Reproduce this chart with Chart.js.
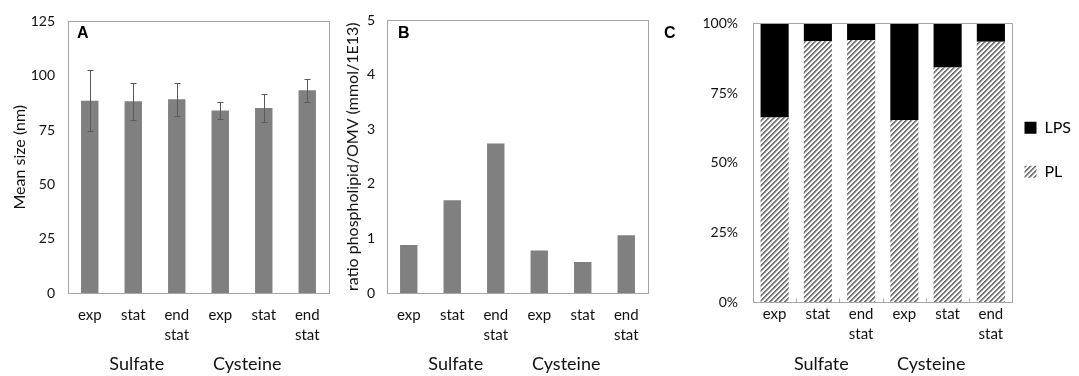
<!DOCTYPE html>
<html>
<head>
<meta charset="utf-8">
<script src="https://cdn.jsdelivr.net/npm/chart.js@4"></script>
<style>
    html, body { margin: 0; padding: 0; background: #fff; }
    #wrap { position: relative; width: 1079px; height: 376px; }
    canvas { position: absolute; top: 0; }
</style>
</head>
<body>
<div id="wrap">
    <canvas id="chartA" width="340" height="376" style="left:0"></canvas>
    <canvas id="chartB" width="320" height="376" style="left:340px"></canvas>
    <canvas id="chartC" width="419" height="376" style="left:660px"></canvas>
</div>
<script>
//
// Data
//

const categories = [["exp"], ["stat"], ["end", "stat"], ["exp"], ["stat"], ["end", "stat"]];
const groups = ["Sulfate", "Cysteine"];

// A: mean OMV size (nm) with error bars
const meanSize = [88.5, 88.3, 89.2, 84.0, 85.2, 93.3];
const meanSizeErr = [14.0, 8.5, 7.6, 3.9, 6.5, 5.3];

// B: ratio phospholipid / OMV
const ratioPL = [0.88, 1.70, 2.74, 0.78, 0.57, 1.06];

// C: composition (%)
const plShare = [66.2, 93.6, 94.0, 65.3, 84.2, 93.4];
const lpsShare = [33.8, 6.4, 6.0, 34.7, 15.8, 6.6];

Chart.defaults.font.family = "Lato";
Chart.defaults.color = "#111";

const BAR_GREY = "#808080";
const FRAME_GREY = "#a6a6a6";

//
// Plugins
//

const frame = {
    id: "frame",

    afterDatasetsDraw(chart, args, opts) {
        const { ctx, chartArea: { left, top, right, bottom }, scales: { x } } = chart;

        ctx.save();
        ctx.strokeStyle = FRAME_GREY;
        ctx.lineWidth = 1;

        const l = Math.round(left) + 0.5;
        const t = Math.round(top) + 0.5;
        const r = Math.round(right) + 0.5;
        const b = Math.round(bottom) + 0.5;
        ctx.strokeRect(l, t, r - l, b - t);

        // small inward ticks between categories
        if (opts.innerTicks) {
            ctx.beginPath();
            for (let i = 0; i < chart.data.labels.length - 1; i++) {
                const px = Math.round(x.getPixelForValue(i + 0.5)) + 0.5;
                ctx.moveTo(px, b);
                ctx.lineTo(px, b - 4);
            }
            ctx.stroke();
        }

        // panel letter
        if (opts.letter) {
            ctx.fillStyle = "#000";
            ctx.font = "bold 16px 'Liberation Sans', Arial, sans-serif";
            ctx.textAlign = "left";
            ctx.textBaseline = "alphabetic";
            ctx.fillText(opts.letter.text, opts.letter.x, opts.letter.y);
        }

        ctx.restore();
    }
};

const errorBars = {
    id: "errorBars",

    afterDatasetsDraw(chart, args, opts) {
        if (!opts.errors) return;

        const { ctx, scales: { y } } = chart;
        const meta = chart.getDatasetMeta(0);
        const values = chart.data.datasets[0].data;

        ctx.save();
        ctx.strokeStyle = "#5a5a5a";
        ctx.lineWidth = 1;
        ctx.beginPath();

        meta.data.forEach((bar, i) => {
            const hi = Math.round(y.getPixelForValue(values[i] + opts.errors[i])) + 0.5;
            const lo = Math.round(y.getPixelForValue(values[i] - opts.errors[i])) + 0.5;
            const xc = Math.round(bar.x) + 0.5;

            ctx.moveTo(xc, hi);
            ctx.lineTo(xc, lo);
            ctx.moveTo(xc - 3, hi);
            ctx.lineTo(xc + 3, hi);
            ctx.moveTo(xc - 3, lo);
            ctx.lineTo(xc + 3, lo);
        });

        ctx.stroke();
        ctx.restore();
    }
};

const groupLabels = {
    id: "groupLabels",

    afterDraw(chart, args, opts) {
        if (!opts.labels) return;

        const { ctx, scales: { x } } = chart;

        ctx.save();
        ctx.fillStyle = "#111";
        ctx.font = "18px Lato";
        ctx.textAlign = "center";
        ctx.textBaseline = "alphabetic";

        opts.labels.forEach((label, i) => {
            ctx.fillText(label, x.getPixelForValue(opts.at[i]), opts.y);
        });

        ctx.restore();
    }
};

// nudge the legend next to the plot box
const legendPlacer = {
    id: "legendPlacer",

    afterLayout(chart, args, opts) {
        const lg = chart.legend;
        if (!lg || !opts.gap) return;

        const dx = chart.chartArea.right + opts.gap - (lg.left + lg.options.labels.padding);
        lg.left += dx;
        lg.right += dx;
        lg.top += opts.dy;
        lg.bottom += opts.dy;
    }
};

//
// Shared axis builders
//

function xAxis(height, padding) {
    return {
        grid: { display: false, drawTicks: false },
        border: { display: false },
        ticks: {
            padding,
            color: "#111",
            autoSkip: false,
            maxRotation: 0,
            minRotation: 0,
            font: { size: 15, lineHeight: 1.35 }
        },
        afterFit: scale => { scale.height = height; }
    };
}

function yAxis(width, max, step, title, titlePad, padding, suffix) {
    return {
        min: 0,
        max,
        grid: { display: false, drawTicks: false },
        border: { display: false },
        ticks: {
            stepSize: step,
            padding,
            color: "#111",
            font: { size: 14 },
            callback: value => value + (suffix || "")
        },
        title: {
            display: !!title,
            text: title,
            color: "#111",
            font: { size: 16 },
            padding: { top: titlePad, bottom: 0 }
        },
        afterFit: scale => { scale.width = width; }
    };
}

const groupOpts = { labels: groups, at: [1.08, 3.62], y: 370 };

//
// A: Mean size
//

new Chart(document.getElementById("chartA"), {
    type: "bar",
    data: {
        labels: categories,
        datasets: [{
            data: meanSize,
            backgroundColor: BAR_GREY,
            borderWidth: 0,
            barPercentage: 0.4,
            categoryPercentage: 1
        }]
    },
    options: {
        responsive: false,
        animation: false,
        layout: { padding: { top: 15, right: 11, left: 0, bottom: 0 } },
        scales: {
            x: xAxis(83, 12),
            y: yAxis(68, 125, 25, "Mean size (nm)", 10, 13)
        },
        plugins: {
            legend: { display: false },
            tooltip: { enabled: false },
            errorBars: { errors: meanSizeErr },
            frame: { letter: { text: "A", x: 77, y: 38 } },
            groupLabels: groupOpts
        }
    },
    plugins: [frame, errorBars, groupLabels]
});

//
// B: Phospholipid ratio
//

new Chart(document.getElementById("chartB"), {
    type: "bar",
    data: {
        labels: categories,
        datasets: [{
            data: ratioPL,
            backgroundColor: BAR_GREY,
            borderWidth: 0,
            barPercentage: 0.4,
            categoryPercentage: 1
        }]
    },
    options: {
        responsive: false,
        animation: false,
        layout: { padding: { top: 17, right: 12, left: 0, bottom: 0 } },
        scales: {
            x: xAxis(83, 12),
            y: yAxis(47, 5, 1, "ratio phospholipid/OMV (mmol/1E13)", 3, 12)
        },
        plugins: {
            legend: { display: false },
            tooltip: { enabled: false },
            frame: { letter: { text: "B", x: 58, y: 38 } },
            groupLabels: groupOpts
        }
    },
    plugins: [frame, groupLabels]
});

//
// C: Composition
//

function makeHatch(canvas) {
    const n = 5;
    const tile = document.createElement("canvas");
    tile.width = n;
    tile.height = n;
    const g = tile.getContext("2d");
    g.fillStyle = "#fff";
    g.fillRect(0, 0, n, n);
    for (let yy = 0; yy < n; yy++) {
        for (let xx = 0; xx < n; xx++) {
            const k = (xx + yy) % n;
            if (k === 0 || k === 1) { g.fillStyle = "#787878"; g.fillRect(xx, yy, 1, 1); }
            if (k === 2) { g.fillStyle = "#c4c4c4"; g.fillRect(xx, yy, 1, 1); }
        }
    }
    return canvas.getContext("2d").createPattern(tile, "repeat");
}

const canvasC = document.getElementById("chartC");
const hatch = makeHatch(canvasC);

new Chart(canvasC, {
    type: "bar",
    data: {
        labels: categories,
        datasets: [
            {
                label: "PL",
                data: plShare,
                backgroundColor: hatch,
                borderWidth: 0,
                barPercentage: 0.65,
                categoryPercentage: 1
            },
            {
                label: "LPS",
                data: lpsShare,
                backgroundColor: "#000",
                borderWidth: 0,
                barPercentage: 0.65,
                categoryPercentage: 1
            }
        ]
    },
    options: {
        responsive: false,
        animation: false,
        layout: { padding: { top: 17, right: 4, left: 0, bottom: 0 } },
        scales: {
            x: Object.assign(xAxis(74, 2), { stacked: true }),
            y: Object.assign(yAxis(93, 100, 25, "", 0, 15, "%"), { stacked: true })
        },
        plugins: {
            tooltip: { enabled: false },
            legend: {
                position: "right",
                fullSize: false,
                onClick: null,
                labels: {
                    boxWidth: 12,
                    boxHeight: 12,
                    padding: 6,
                    color: "#111",
                    font: { size: 16 },
                    generateLabels: chart => {
                        const ds = chart.data.datasets;
                        return [
                            { text: ds[1].label, fillStyle: ds[1].backgroundColor, strokeStyle: "transparent", lineWidth: 0, datasetIndex: 1 },
                            { text: "", fillStyle: "transparent", strokeStyle: "transparent", lineWidth: 0 },
                            { text: ds[0].label, fillStyle: ds[0].backgroundColor, strokeStyle: "transparent", lineWidth: 0, datasetIndex: 0 }
                        ];
                    }
                }
            },
            legendPlacer: { gap: 12, dy: -13 },
            frame: { innerTicks: true, letter: { text: "C", x: 4, y: 38 } },
            groupLabels: groupOpts
        }
    },
    plugins: [frame, groupLabels, legendPlacer]
});
</script>
</body>
</html>
